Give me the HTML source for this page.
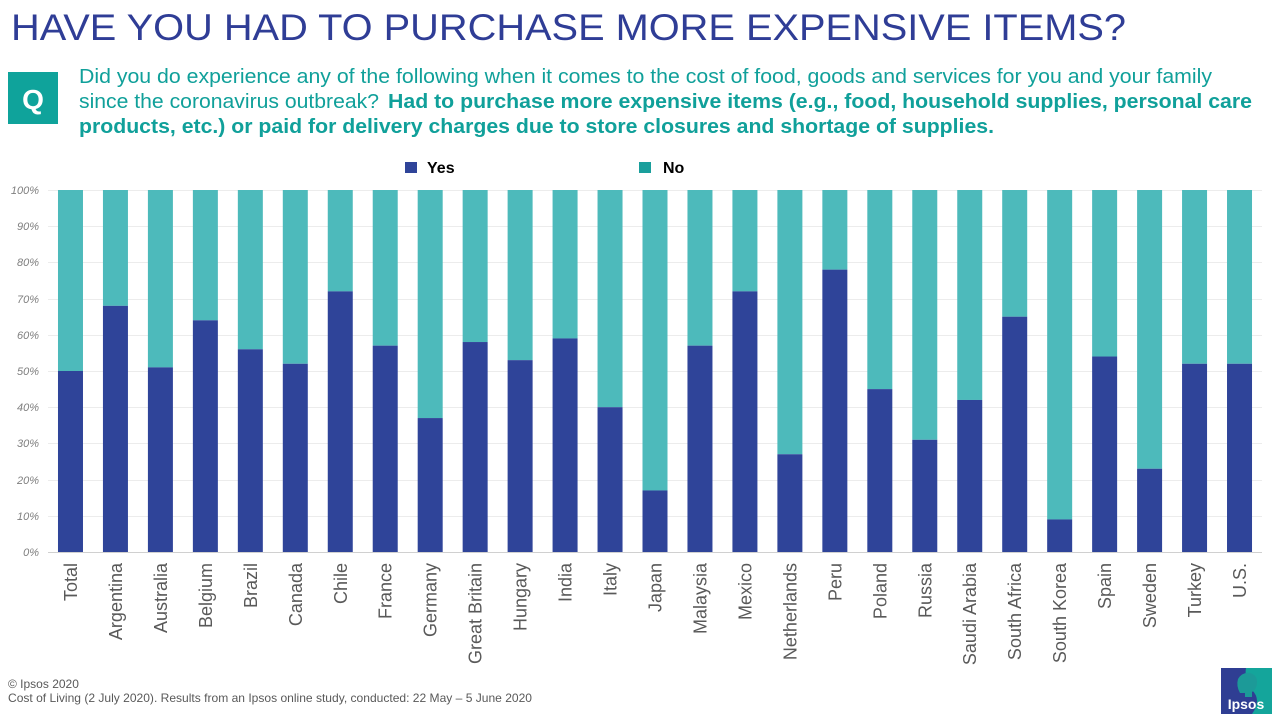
<!DOCTYPE html>
<html><head><meta charset="utf-8"><style>
html,body{margin:0;padding:0;background:#fff;}
svg{display:block;}
text{font-family:"Liberation Sans",Arial,sans-serif;}
</style></head><body>
<svg width="1280" height="720" viewBox="0 0 1280 720" xmlns="http://www.w3.org/2000/svg">
<rect width="1280" height="720" fill="#fff"/>
<!-- Title -->
<text x="11" y="40" font-size="37" fill="#2f3d96" textLength="1115" lengthAdjust="spacingAndGlyphs">HAVE YOU HAD TO PURCHASE MORE EXPENSIVE ITEMS?</text>
<!-- Q box -->
<rect x="8" y="72" width="50" height="52" fill="#0fa39b"/>
<text x="33" y="109" font-size="28" font-weight="bold" fill="#fff" text-anchor="middle">Q</text>
<!-- Question -->
<g fill="#10a09a" font-size="20.5">
<text x="79" y="83" textLength="1133" lengthAdjust="spacingAndGlyphs">Did you do experience any of the following when it comes to the cost of food, goods and services for you and your family</text>
<text x="79" y="108" textLength="300" lengthAdjust="spacingAndGlyphs">since the coronavirus outbreak?</text>
<text x="388" y="108" font-weight="bold" textLength="864" lengthAdjust="spacingAndGlyphs">Had to purchase more expensive items (e.g., food, household supplies, personal care</text>
<text x="79" y="133" font-weight="bold" textLength="915" lengthAdjust="spacingAndGlyphs">products, etc.) or paid for delivery charges due to store closures and shortage of supplies.</text>
</g>
<!-- Legend -->
<rect x="405" y="162" width="12" height="11" fill="#2f4499"/>
<text x="427" y="173" font-size="16" font-weight="bold" fill="#000">Yes</text>
<rect x="639" y="162" width="12" height="11" fill="#1a9f9c"/>
<text x="663" y="173" font-size="16" font-weight="bold" fill="#000">No</text>
<!-- Gridlines -->
<g stroke="#ececec" stroke-width="1">
<line x1="48" x2="1262" y1="190.5" y2="190.5"/>
<line x1="48" x2="1262" y1="226.5" y2="226.5"/>
<line x1="48" x2="1262" y1="262.5" y2="262.5"/>
<line x1="48" x2="1262" y1="299.5" y2="299.5"/>
<line x1="48" x2="1262" y1="335.5" y2="335.5"/>
<line x1="48" x2="1262" y1="371.5" y2="371.5"/>
<line x1="48" x2="1262" y1="407.5" y2="407.5"/>
<line x1="48" x2="1262" y1="443.5" y2="443.5"/>
<line x1="48" x2="1262" y1="480.5" y2="480.5"/>
<line x1="48" x2="1262" y1="516.5" y2="516.5"/>
</g>
<!-- Y labels -->
<g font-size="11" font-style="italic" fill="#7f7f7f" text-anchor="end">
<text x="39" y="194">100%</text>
<text x="39" y="230">90%</text>
<text x="39" y="266">80%</text>
<text x="39" y="303">70%</text>
<text x="39" y="339">60%</text>
<text x="39" y="375">50%</text>
<text x="39" y="411">40%</text>
<text x="39" y="447">30%</text>
<text x="39" y="484">20%</text>
<text x="39" y="520">10%</text>
<text x="39" y="556">0%</text>
</g>
<!-- Bars -->
<g id="bars"></g>
<g id="labels" font-size="18" fill="#595959" text-anchor="end"></g>
<line x1="48" x2="1262" y1="552.5" y2="552.5" stroke="#d0d0d0" stroke-width="1"/>
<!-- Footer -->
<text x="8" y="688" font-size="12" fill="#595959">© Ipsos 2020</text>
<text x="8" y="702" font-size="12" fill="#595959" textLength="524" lengthAdjust="spacingAndGlyphs">Cost of Living (2 July 2020). Results from an Ipsos online study, conducted: 22 May  – 5 June 2020</text>
<!-- Logo -->
<rect x="1221" y="668" width="51" height="46" fill="#2f3e93"/>
<path d="M1246 668 L1272 668 L1272 714 L1252 714 Q1262 700 1252 690 Q1244 680 1246 668 Z" fill="#14a59b"/>
<path d="M1240 693 Q1236 686 1238 679 Q1242 672 1250 673 Q1257 675 1257 682 Q1257 689 1252 692 L1252 697 L1245 697 L1245 693 Z" fill="#1c9a98"/>
<text x="1246" y="709" font-size="14" font-weight="bold" fill="#fff" text-anchor="middle">Ipsos</text>
</svg>
<script>
var data=[["Total",50],["Argentina",68],["Australia",51],["Belgium",64],["Brazil",56],["Canada",52],["Chile",72],["France",57],["Germany",37],["Great Britain",58],["Hungary",53],["India",59],["Italy",40],["Japan",17],["Malaysia",57],["Mexico",72],["Netherlands",27],["Peru",78],["Poland",45],["Russia",31],["Saudi Arabia",42],["South Africa",65],["South Korea",9],["Spain",54],["Sweden",23],["Turkey",52],["U.S.",52]];
var ns="http://www.w3.org/2000/svg";
var bars=document.getElementById("bars"),labels=document.getElementById("labels");
var y0=552,h=362,step=1214/27;
data.forEach(function(d,i){
 var cx=48+step*(i+0.5),x=cx-12.5;
 var yy=y0-d[1]/100*h;
 var r1=document.createElementNS(ns,"rect");
 r1.setAttribute("x",x);r1.setAttribute("y",190);r1.setAttribute("width",25);r1.setAttribute("height",yy-190);r1.setAttribute("fill","#4dbabb");bars.appendChild(r1);
 var r2=document.createElementNS(ns,"rect");
 r2.setAttribute("x",x);r2.setAttribute("y",yy);r2.setAttribute("width",25);r2.setAttribute("height",y0-yy);r2.setAttribute("fill","#2f4499");bars.appendChild(r2);
 var t=document.createElementNS(ns,"text");
 var tx=cx+6.5,ty=563;
 t.setAttribute("x",tx);t.setAttribute("y",ty);
 t.setAttribute("transform","rotate(-90 "+tx+" "+ty+")");
 t.textContent=d[0];labels.appendChild(t);
});
</script>
</body></html>
